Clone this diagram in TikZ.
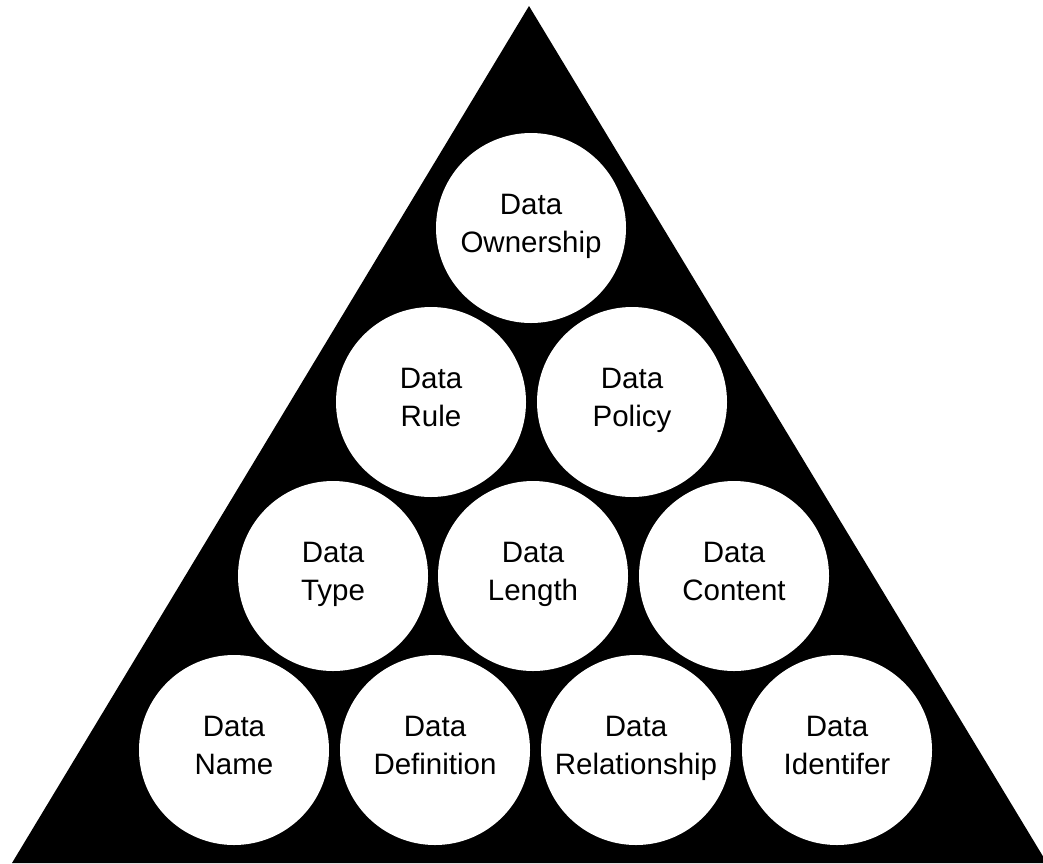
\documentclass[tikz,border=0pt]{standalone}
\usepackage{fontspec}
\setmainfont{Liberation Sans}
\begin{document}
\begin{tikzpicture}[x=1pt,y=-1pt,
  bubble/.style={circle, fill=white, minimum size=190pt, inner sep=0pt, align=center,
    font=\fontsize{29.5}{38}\selectfont},
  lbl/.style={align=center, inner sep=0pt, yshift=2.5pt,
    font=\fontsize{29.5}{38}\selectfont}]
\useasboundingbox (0,0) rectangle (1043,863);
\fill[black] (529,6) -- (1047,863) -- (12,863) -- cycle;
% row 1
\node[bubble] (own) at (531,228) {};
\node[lbl] (ownT) at (own.center) {Data\strut\\Ownership\strut};
% row 2
\node[bubble] (rule) at (431,402) {};
\node[lbl] (ruleT) at (rule.center) {Data\strut\\Rule\strut};
\node[bubble] (policy) at (632,402) {};
\node[lbl] (policyT) at (policy.center) {Data\strut\\Policy\strut};
% row 3
\node[bubble] (type) at (333,576) {};
\node[lbl] (typeT) at (type.center) {Data\strut\\Type\strut};
\node[bubble] (length) at (533,576) {};
\node[lbl] (lengthT) at (length.center) {Data\strut\\Length\strut};
\node[bubble] (content) at (734,576) {};
\node[lbl] (contentT) at (content.center) {Data\strut\\Content\strut};
% row 4
\node[bubble] (name) at (234,750) {};
\node[lbl] (nameT) at (name.center) {Data\strut\\Name\strut};
\node[bubble] (def) at (435,750) {};
\node[lbl] (defT) at (def.center) {Data\strut\\Definition\strut};
\node[bubble] (rel) at (636,750) {};
\node[lbl] (relT) at (rel.center) {Data\strut\\Relationship\strut};
\node[bubble] (ident) at (837,750) {};
\node[lbl] (identT) at (ident.center) {Data\strut\\Identifer\strut};
\end{tikzpicture}
\end{document}
